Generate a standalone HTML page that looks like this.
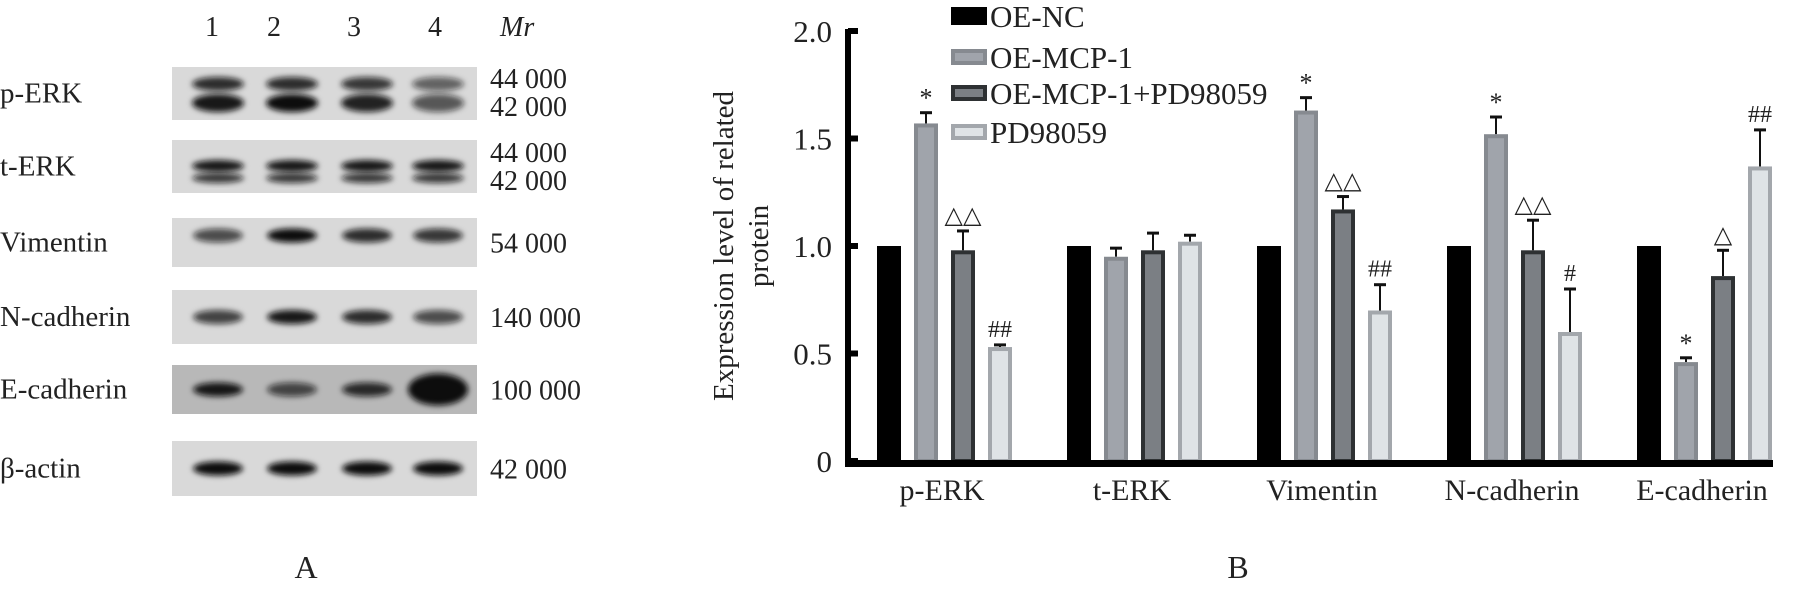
<!DOCTYPE html>
<html><head><meta charset="utf-8"><style>
html,body{margin:0;padding:0;background:#fff;}
svg text{font-family:"Liberation Serif",serif;fill:#222;}
</style></head><body>
<svg width="1793" height="604" viewBox="0 0 1793 604" xmlns="http://www.w3.org/2000/svg">
<defs>
<filter id="blur" x="-20%" y="-50%" width="140%" height="200%"><feGaussianBlur stdDeviation="3"/></filter>
<filter id="blur2"><feGaussianBlur stdDeviation="6"/></filter>
</defs>
<g id="panelA"></g>
<g id="panelB"></g>
<text x="306" y="578" font-size="32" text-anchor="middle">A</text>
<text x="1238" y="578" font-size="32" text-anchor="middle">B</text>
</svg>
<script>
const NS="http://www.w3.org/2000/svg";
function mk(tag,attrs,parent,txt){const e=document.createElementNS(NS,tag);for(const k in attrs)e.setAttribute(k,attrs[k]);if(txt!==undefined)e.textContent=txt;parent.appendChild(e);return e;}

// ---------- Panel A data ----------
const blotNames=["p-ERK","t-ERK","Vimentin","N-cadherin","E-cadherin","β-actin"];
const blotMw=[["44 000","42 000"],["44 000","42 000"],["54 000"],["140 000"],["100 000"],["42 000"]];
const laneLabels=["1","2","3","4"];
// band intensity per lane (0-1)
const bandUpper=[[0.85,0.85,0.8,0.6],[0.95,0.95,0.95,0.95],[0.7,1,0.85,0.8],[0.75,0.95,0.85,0.7],[0.95,0.7,0.85,1],[1,1,1,1]];
const bandLower=[[0.95,1,0.9,0.65],[0.8,0.8,0.8,0.8]];
const A=document.getElementById('panelA');
const laneX=[218,292,367,438];
const laneLX=[212,274,354,435];
const blotTop=[67,140,218,290,365,441], blotBot=[120,193,267,344,414,496];
laneLabels.forEach((l,i)=>{const t=mk('text',{x:laneLX[i],y:36,'font-size':28,'text-anchor':'middle'},A,l);

});
const mr=mk('text',{x:500,y:36,'font-size':28,'font-style':'italic'},A,'Mr');


blotNames.forEach((n,r)=>{
 const g=mk('g',{},A);
 
 
 const bg=r===4?'#b8b8b8':'#d9d9d9';
 mk('rect',{x:172,y:blotTop[r],width:305,height:blotBot[r]-blotTop[r],fill:bg},g);
 const mid=(blotTop[r]+blotBot[r])/2;
 const two=r<2;
 laneX.forEach((x,i)=>{
   if(two){
     const yu=r===0?84:166, yl=r===0?103:178;
     const a=bandUpper[r][i], b=bandLower[r][i];
     mk('ellipse',{cx:x,cy:yu,rx:26,ry:r===0?7:6,fill:'#111','fill-opacity':a,filter:'url(#blur)'},g);
     mk('ellipse',{cx:x,cy:yl,rx:26,ry:r===0?9:5,fill:'#111','fill-opacity':b,filter:'url(#blur)'},g);
   } else {
     const a=bandUpper[r][i];
     const big=(r===4&&i===3);
     mk('ellipse',{cx:x,cy:r===2?(mid-7):mid,rx:big?30:25,ry:big?16:7,fill:'#0a0a0a','fill-opacity':a,filter:'url(#blur)'},g);
   }
 });
 const lbl=mk('text',{x:0,y:mid+9,'font-size':29},A,n);
 
 
 const ms=blotMw[r];
 ms.forEach((m,k)=>{const y=ms.length===2?(r===0?[88,116][k]:[162,190][k]):mid+10;
  const t=mk('text',{x:490,y:y,'font-size':28},A,m);
  
  });
});

// ---------- Panel B data ----------
const categories=["p-ERK","t-ERK","Vimentin","N-cadherin","E-cadherin"];
const seriesNames=["OE-NC","OE-MCP-1","OE-MCP-1+PD98059","PD98059"];
const valNC=[1,1,1,1,1];
const valMCP=[1.57,0.95,1.63,1.52,0.46];
const valCombo=[0.98,0.98,1.17,0.98,0.86];
const valPD=[0.53,1.02,0.70,0.60,1.37];
const errMCP=[0.05,0.04,0.06,0.08,0.02];
const errCombo=[0.09,0.08,0.06,0.14,0.12];
const errPD=[0.01,0.03,0.12,0.20,0.17];
const marksMCP=["*","","*","*","*"];
const marksCombo=["△△","","△△","△△","△"];
const marksPD=["##","","##","#","##"];
const yTicks=[0,0.5,1.0,1.5,2.0];
const yTickLabels=["0","0.5","1.0","1.5","2.0"];

const B=document.getElementById('panelB');
const y0=461, pxPerUnit=215;
function yS(v){return y0-v*pxPerUnit;}
function xGroup(i){return 877+i*190;}
const barW=24, barPitch=37;
const styles=[{fill:'#000',stroke:'#000'},{fill:'#a0a4ab',stroke:'#868a90'},{fill:'#7b7f84',stroke:'#2e3133'},{fill:'#dfe3e6',stroke:'#a3a7ac'}];
const vals=[valNC,valMCP,valCombo,valPD], errs=[null,errMCP,errCombo,errPD], marks=[null,marksMCP,marksCombo,marksPD];

categories.forEach((c,i)=>{
 vals.forEach((arr,s)=>{
  const x=xGroup(i)+s*barPitch, v=arr[i];
  const yt=yS(v);
  if(errs[s]){
    const ye=yS(v+errs[s][i]);
    const el=mk('line',{x1:x+barW/2,x2:x+barW/2,y1:yt,y2:ye,stroke:'#111','stroke-width':2},B);
    
    
    mk('line',{x1:x+barW/2-6,x2:x+barW/2+6,y1:ye,y2:ye,stroke:'#111','stroke-width':3},B);
    const m=marks[s][i];
    if(m){const t=mk('text',{x:x+barW/2,y:ye-(m==='*'?6:8),'font-size':m==='*'?26:24,'text-anchor':'middle',fill:m[0]==='△'?'#555':'#333'},B,m);
     
     }
  }
  let r;
  if(s===0){r=mk('rect',{x:x,y:yt,width:barW,height:y0-yt+6,fill:'#000'},B);}
  else{r=mk('rect',{x:x+2,y:yt+2,width:barW-4,height:y0-yt-2,fill:styles[s].fill,stroke:styles[s].stroke,'stroke-width':4},B);}
  
  
 });
 const t=mk('text',{x:xGroup(i)+65,y:500,'font-size':30,'text-anchor':'middle'},B,c);
 
 
});
// axes
const ax=mk('line',{x1:848,x2:848,y1:yS(2)-2,y2:467,stroke:'#000','stroke-width':6},B);


const bx=mk('line',{x1:845,x2:1773,y1:463.5,y2:463.5,stroke:'#000','stroke-width':7},B);


yTicks.forEach((v,k)=>{
 mk('line',{x1:848,x2:858,y1:yS(v),y2:yS(v),stroke:'#000','stroke-width':6},B);
 const t=mk('text',{x:832,y:yS(v)+11,'font-size':31,'text-anchor':'end',fill:'#333'},B,yTickLabels[k]);
 
 
});
const yt=mk('text',{transform:'translate(733,246) rotate(-90)','font-size':29,'text-anchor':'middle',fill:'#333'},B,'Expression level of related');


mk('text',{transform:'translate(768,246) rotate(-90)','font-size':29,'text-anchor':'middle',fill:'#333'},B,'protein');
// legend
const legY=[16,57,93,132];
seriesNames.forEach((n,s)=>{
 const g=mk('g',{},B);
 
 
 if(s===0)mk('rect',{x:951,y:legY[s]-9,width:36,height:18,fill:'#000'},g);
 else mk('rect',{x:953,y:legY[s]-6,width:32,height:12,fill:styles[s].fill,stroke:styles[s].stroke,'stroke-width':4},g);
 mk('text',{x:990,y:legY[s]+11,'font-size':31},g,n);
});
</script>
</body></html>
